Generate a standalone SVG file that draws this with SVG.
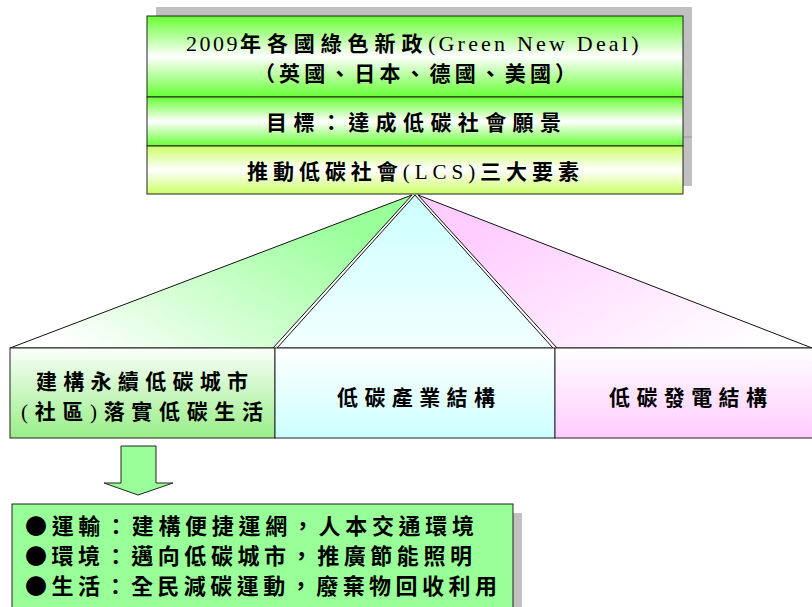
<svg xmlns="http://www.w3.org/2000/svg" width="812" height="607" viewBox="0 0 812 607">
<defs>
<linearGradient id="gGreenBand" x1="0" y1="0" x2="0" y2="1">
<stop offset="0" stop-color="#66FF33"/><stop offset="0.5" stop-color="#FFFFFF"/><stop offset="1" stop-color="#66FF33"/>
</linearGradient>
<linearGradient id="gYellowBand" x1="0" y1="0" x2="0" y2="1">
<stop offset="0" stop-color="#CCFF66"/><stop offset="0.5" stop-color="#FFFFFF"/><stop offset="1" stop-color="#CCFF66"/>
</linearGradient>
<linearGradient id="gTriGreen" x1="0.9" y1="0.3" x2="0.05" y2="0.85">
<stop offset="0" stop-color="#99FF99"/><stop offset="1" stop-color="#FFFFFF"/>
</linearGradient>
<linearGradient id="gTriCyan" x1="0" y1="0" x2="0" y2="1">
<stop offset="0" stop-color="#CCFFFF"/><stop offset="1" stop-color="#F2FFFF"/>
</linearGradient>
<linearGradient id="gTriPink" x1="0.1" y1="0.3" x2="0.95" y2="0.85">
<stop offset="0" stop-color="#FFCCFF"/><stop offset="1" stop-color="#FFFFFF"/>
</linearGradient>
<linearGradient id="gBoxGreen" x1="0" y1="0" x2="0" y2="1">
<stop offset="0" stop-color="#FAFFFA"/><stop offset="1" stop-color="#99EE88"/>
</linearGradient>
<linearGradient id="gBoxCyan" x1="0" y1="0" x2="0" y2="1">
<stop offset="0" stop-color="#FFFFFF"/><stop offset="1" stop-color="#CCFFFF"/>
</linearGradient>
<linearGradient id="gBoxPink" x1="0" y1="0" x2="0" y2="1">
<stop offset="0" stop-color="#FFFFFF"/><stop offset="1" stop-color="#FFCCFF"/>
</linearGradient>
</defs>
<style>
.t{font-family:"Noto Sans CJK TC","Noto Sans CJK SC",sans-serif;font-size:21px;font-weight:bold;fill:#000}
.tb{font-family:"Noto Sans CJK TC","Noto Sans CJK SC",sans-serif;font-size:22px;font-weight:bold;fill:#000}
.lat{font-family:"Liberation Serif",serif;font-weight:normal}
.box{stroke:#222;stroke-width:1}
.shadow{fill:#C0C0C0}
.tri{stroke:#111;stroke-width:1}
</style>
<rect width="812" height="607" fill="#FFFFFF"/>

<g id="connectors">
<polygon class="tri" points="412,195 10,348 273,348" fill="url(#gTriGreen)"/>
<polygon class="tri" points="415,195 277,348 553,348" fill="url(#gTriCyan)"/>
<polygon class="tri" points="418,195 557,348 812,348" fill="url(#gTriPink)"/>
<polygon id="down-arrow" points="121,446 156,446 156,483 173,483 138,495 104,483 121,483" fill="#99FF99" stroke="#222" stroke-width="1"/>
</g>

<g id="top-node">
<rect class="shadow" x="156" y="7" width="536" height="179"/>
<line x1="683" y1="137" x2="692" y2="137" stroke="#999" stroke-width="1"/>
<g id="title-band">
<rect class="box" x="147" y="16" width="536" height="81" fill="url(#gGreenBand)"/>
<text class="t" y="51"><tspan class="lat" x="186" font-size="22" letter-spacing="2.5">2009</tspan><tspan x="240" letter-spacing="5.9">年各國綠色新政</tspan><tspan class="lat" x="428" font-size="22" letter-spacing="3.2">(Green New Deal)</tspan></text>
<text class="t" x="254" y="81" textLength="322" lengthAdjust="spacing">（英國、日本、德國、美國）</text>
</g>
<g id="goal-band">
<rect class="box" x="147" y="97" width="536" height="49" fill="url(#gGreenBand)"/>
<text class="t" x="266" y="130" textLength="295" lengthAdjust="spacing">目標：達成低碳社會願景</text>
</g>
<g id="lcs-band">
<rect class="box" x="147" y="146" width="536" height="48" fill="url(#gYellowBand)"/>
<text class="t" x="247" y="179" textLength="332" lengthAdjust="spacing">推動低碳社會<tspan class="lat">(LCS)</tspan>三大要素</text>
</g>
</g>

<g id="node-city">
<rect class="box" x="10" y="348" width="265" height="90" fill="url(#gBoxGreen)"/>
<text class="t" x="36" y="389" textLength="212" lengthAdjust="spacing">建構永續低碳城市</text>
<text class="t" x="21" y="419" textLength="242" lengthAdjust="spacing"><tspan class="lat">(</tspan>社區<tspan class="lat">)</tspan>落實低碳生活</text>
</g>

<g id="node-industry">
<rect class="box" x="275" y="348" width="280" height="90" fill="url(#gBoxCyan)"/>
<text class="t" x="337" y="405" textLength="158" lengthAdjust="spacing">低碳產業結構</text>
</g>

<g id="node-power">
<rect class="box" x="555" y="348" width="262" height="90" fill="url(#gBoxPink)"/>
<text class="t" x="609" y="405" textLength="158" lengthAdjust="spacing">低碳發電結構</text>
</g>

<g id="node-actions">
<rect class="shadow" x="21" y="513" width="501" height="110"/>
<rect class="box" x="12" y="504" width="501" height="120" fill="#99FF99"/>
<text class="tb" x="25" y="534" textLength="449" lengthAdjust="spacing">●運輸：建構便捷運網，人本交通環境</text>
<text class="tb" x="25" y="564" textLength="447" lengthAdjust="spacing">●環境：邁向低碳城市，推廣節能照明</text>
<text class="tb" x="25" y="594" textLength="472" lengthAdjust="spacing">●生活：全民減碳運動，廢棄物回收利用</text>
</g>
</svg>
